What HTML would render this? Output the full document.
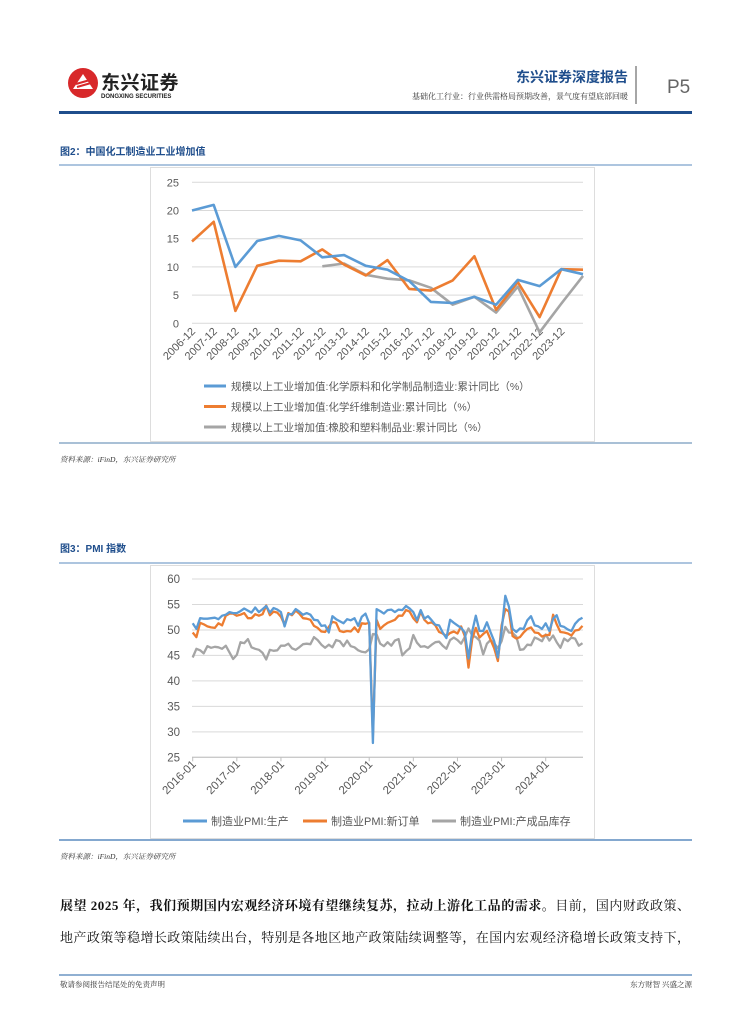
<!DOCTYPE html>
<html><head><meta charset="utf-8">
<style>
body{margin:0;background:#fff;}
svg{display:block;font-family:"Liberation Sans","Noto Sans CJK SC",sans-serif;}
.cn{font-family:"Liberation Sans","Noto Sans CJK SC",sans-serif;}
.sf{font-family:"Liberation Serif","Noto Serif CJK SC",serif;}
</style></head>
<body>
<svg id="page" width="755" height="1024" viewBox="0 0 755 1024">
<g>
  <g>
    <circle cx="83" cy="83" r="15" fill="#d8282a"/>
    <path d="M73,89 L83,74 L93,89 Z" fill="#fff"/>
    <path d="M76,84 L90,80 M77,87 L91,83" stroke="#d8282a" stroke-width="2"/>
    <text x="101" y="89" font-size="19" font-weight="bold" fill="#222" class="cn" letter-spacing="0.5">东兴证券</text>
    <text x="101" y="98" font-size="6" font-weight="bold" fill="#222">DONGXING SECURITIES</text>
  </g>
  <text x="628" y="82" font-size="14" font-weight="bold" fill="#1f4e8c" text-anchor="end" class="cn">东兴证券深度报告</text>
  <text x="628" y="99" font-size="8" fill="#333" text-anchor="end" class="sf">基础化工行业：行业供需格局预期改善，景气度有望底部回暖</text>
  <line x1="636" y1="66" x2="636" y2="104" stroke="#888" stroke-width="1.5"/>
  <text x="667" y="93" font-size="19" fill="#666">P5</text>
  <rect x="59" y="111" width="633" height="3" fill="#1f4e8c"/>
</g>

<text x="60" y="155" font-size="10" font-weight="bold" fill="#1f4e8c" class="cn">图2：中国化工制造业工业增加值</text>
<line x1="59" y1="165" x2="692" y2="165" stroke="#5b8bbf" stroke-width="1"/>
<rect x="150.5" y="167.5" width="444" height="274" fill="#fff" stroke="#ddd"/>
<g id="chart1"></g>
<line x1="59" y1="443" x2="692" y2="443" stroke="#a9c0d6" stroke-width="2"/>
<text x="60" y="462" font-size="7.5" font-style="italic" fill="#333" class="sf">资料来源：iFinD，东兴证券研究所</text>

<text x="60" y="552" font-size="10" font-weight="bold" fill="#1f4e8c" class="cn">图3：PMI 指数</text>
<line x1="59" y1="563" x2="692" y2="563" stroke="#5b8bbf" stroke-width="1"/>
<rect x="150.5" y="565.5" width="444" height="273" fill="#fff" stroke="#ddd"/>
<g id="chart2"></g>
<line x1="59" y1="840" x2="692" y2="840" stroke="#5b8bbf" stroke-width="1.5"/>
<text x="60" y="859" font-size="7.5" font-style="italic" fill="#333" class="sf">资料来源：iFinD，东兴证券研究所</text>

<g>
<text x="60" y="910" font-size="13" fill="#111" class="sf" textLength="630" lengthAdjust="spacing"><tspan font-weight="bold">展望 2025 年，我们预期国内宏观经济环境有望继续复苏，拉动上游化工品的需求。</tspan>目前，国内财政政策、</text>
<text x="60" y="942" font-size="13" fill="#111" class="sf" textLength="630" lengthAdjust="spacing">地产政策等稳增长政策陆续出台，特别是各地区地产政策陆续调整等，在国内宏观经济稳增长政策支持下，</text>
</g>
<line x1="59" y1="975" x2="692" y2="975" stroke="#6b96c4" stroke-width="1.5"/>
<text x="60" y="987" font-size="7.5" fill="#333" class="sf">敬请参阅报告结尾处的免责声明</text>
<text x="692" y="987" font-size="7.5" fill="#333" text-anchor="end" class="sf">东方财智 兴盛之源</text>
</svg>
<script>
const NS="http://www.w3.org/2000/svg";
// ---- Chart 1 data ----
const years1=["2006-12","2007-12","2008-12","2009-12","2010-12","2011-12","2012-12","2013-12","2014-12","2015-12","2016-12","2017-12","2018-12","2019-12","2020-12","2021-12","2022-12","2023-12",""];
const chemRaw=[20,21,10,14.6,15.5,14.7,11.7,12.1,10.2,9.5,7.5,3.8,3.6,4.7,3.3,7.7,6.6,9.6,8.7];
const chemFiber=[14.5,18,2.2,10.2,11.1,11,13.1,10.4,8.5,11.2,6.1,5.8,7.6,11.9,2.4,7.3,1.1,9.6,9.5];
const rubber=[null,null,null,null,null,null,10.1,10.6,8.6,7.9,7.6,6.3,3.3,4.7,1.9,6.5,-1.6,3.5,8.4];
const ticks1=[0,5,10,15,20,25];
const legend1=["规模以上工业增加值:化学原料和化学制品制造业:累计同比（%）","规模以上工业增加值:化学纤维制造业:累计同比（%）","规模以上工业增加值:橡胶和塑料制品业:累计同比（%）"];
// ---- Chart 2 data (2016-01 .. 2024-11) ----
const pmiProd=[51.3,50.2,52.3,52.2,52.2,52.3,52.4,52.1,52.8,53,53.5,53.3,
53.3,53.7,54.2,53.8,53.4,54.4,53.5,54.1,54.7,53.4,54.3,54,
53.5,50.7,53.1,53.1,54.1,53.6,53,53.3,53,52,51.9,50.8,
50.9,49.5,52.7,52.1,51.7,51.3,52.1,51.9,52.3,50.8,52.6,53.2,
51.3,27.8,54.1,53.7,53.2,53.9,54,53.5,54,53.9,54.7,54.2,
53.5,51.9,53.9,52.2,52.7,51.9,51,50.9,49.5,48.4,52,51.4,
50.9,50.4,49.5,44.4,49.7,52.8,49.8,49.8,51.5,49.6,47.8,44.6,
49.8,56.7,54.6,50.2,49.6,50.3,50.2,51.9,52.7,50.9,50.7,50.2,
51.3,49.8,52.2,52.9,50.8,50.6,50.1,49.8,51.2,52,52.4];
const pmiOrders=[49.5,48.6,51.4,51.1,50.7,50.5,50.4,51.3,50.9,52.8,53.2,53.2,
52.8,53,53.3,52.3,52.3,53.1,52.8,53.1,54.8,52.9,53.6,53.4,
52.6,51,53.3,52.9,53.8,53.2,52.3,52.2,52,50.8,50.4,49.7,
49.6,50.6,51.6,51.4,49.8,49.6,49.8,49.7,50.5,49.6,51.3,51.2,
51.4,29.3,52,50.2,50.9,51.4,51.7,52,52.8,52.8,53.9,53.6,
52.3,51.5,53.6,52,51.3,51.5,50.9,49.6,49.3,48.8,49.4,49.7,
49.3,50.7,48.8,42.6,48.2,50.4,48.5,49.2,49.8,48.1,46.4,43.9,
50.9,54.1,53.6,48.8,48.3,48.6,49.5,50.2,50.5,49.5,49.4,48.7,
49,49,53,51.1,49.6,49.5,49.3,48.9,49.9,50,50.8];
const pmiInv=[44.6,46.3,46,45.4,46.8,46.5,46.7,46.6,46.3,46.9,45.6,44.3,
45.1,47.6,47.4,48.2,46.6,46.3,46.1,45.5,44.2,46.1,45.9,46,
46.9,46.9,47.3,46.4,46.1,46.6,47.2,47.3,47.2,48.6,48,47.1,
46.5,47.1,46.6,48,47.8,46.8,47.9,46.8,46.6,46,45.7,45.6,
46.2,49.2,49.1,47.3,46.8,47.6,46.9,47.9,48.2,45,45.8,46.4,
49,47.5,46.7,46.8,46.5,47.1,47.6,47.7,46.9,46.3,48,48.5,
48,47.3,48.6,50.3,48.9,48.6,47.9,45.2,47.3,48,47.4,46.4,
47.8,50.6,49.5,49.4,48.7,46.1,46.2,47.1,47,48.5,48.2,47.8,
49.1,47.9,48.9,47.6,46.5,48.3,47.8,48.5,48.3,46.9,47.4];
const ticks2=[25,30,35,40,45,50,55,60];
const xLabels2=["2016-01","2017-01","2018-01","2019-01","2020-01","2021-01","2022-01","2023-01","2024-01"];
const legend2=["制造业PMI:生产","制造业PMI:新订单","制造业PMI:产成品库存"];
const COLORS=["#5b9bd5","#ed7d31","#a5a5a5"];

function mk(parent,tag,attrs,txt){const e=document.createElementNS(NS,tag);for(const k in attrs)e.setAttribute(k,attrs[k]);if(txt!==undefined)e.textContent=txt;parent.appendChild(e);return e;}
function pathOf(vals,xf,yf){let d="",pen=false;vals.forEach((v,i)=>{if(v===null){pen=false;return;}d+=(pen?"L":"M")+xf(i).toFixed(1)+","+yf(v).toFixed(1);pen=true;});return d;}

// Chart 1
(function(){
const g=document.getElementById('chart1');
const x0=192,x1=583,yTop=182.3,yBot=323.3;
const xf=i=>x0+i*(x1-x0)/(chemRaw.length-1);
const yf=v=>yBot-(v-0)/(25-0)*(yBot-yTop);
ticks1.forEach(t=>{
  const l=mk(g,'line',{x1:192,x2:583,y1:yf(t),y2:yf(t),stroke:'#d9d9d9','stroke-width':1});
  
  
  const tx=mk(g,'text',{x:179,y:yf(t)+4,'font-size':11,fill:'#595959','text-anchor':'end'},String(t));
  
  
});
years1.forEach((lab,i)=>{
  if(!lab)return;
  const tx=mk(g,'text',{x:0,y:0,'font-size':11,fill:'#595959','text-anchor':'end',transform:`translate(${xf(i)+4},${332}) rotate(-45)`},lab);
  
  
});
[chemRaw,chemFiber,rubber].slice().reverse().forEach((s,ri)=>{
  const k=2-ri;
  const p=mk(g,'path',{d:pathOf(s,xf,yf),fill:'none',stroke:COLORS[k],'stroke-width':2.6,'stroke-linejoin':'round'});
  
  
});
legend1.forEach((lab,i)=>{
  const y=386+i*20.5;
  const l=mk(g,'line',{x1:204,x2:226,y1:y,y2:y,stroke:COLORS[i],'stroke-width':3});
  
  
  const t=mk(g,'text',{x:231,y:y+4,'font-size':10.5,fill:'#595959'},lab);
  
  
});
})();

// Chart 2
(function(){
const g=document.getElementById('chart2');
const x0=192.7,step=(545.7-192.7)/96,yTop=579,yBot=757.3;
const xf=i=>x0+i*step;
const yf=v=>yBot-(v-25)/(60-25)*(yBot-yTop);
ticks2.forEach(t=>{
  const l=mk(g,'line',{x1:192,x2:583,y1:yf(t),y2:yf(t),stroke:'#d9d9d9','stroke-width':1});
  
  
  const tx=mk(g,'text',{x:180,y:yf(t)+4,'font-size':11.5,fill:'#595959','text-anchor':'end'},String(t));
  
  
});
const ax=mk(g,'line',{x1:192,x2:583,y1:yBot,y2:yBot,stroke:'#bfbfbf'});


xLabels2.forEach((lab,i)=>{
  const x=xf(i*12);
  mk(g,'line',{x1:x,x2:x,y1:yBot,y2:yBot+4,stroke:'#bfbfbf'});
  const tx=mk(g,'text',{x:0,y:0,'font-size':11.5,fill:'#595959','text-anchor':'end',transform:`translate(${x+4},${765}) rotate(-45)`},lab);
  
  
});
[pmiInv,pmiOrders,pmiProd].forEach((s,ri)=>{
  const k=2-ri;
  const p=mk(g,'path',{d:pathOf(s,xf,yf),fill:'none',stroke:COLORS[k],'stroke-width':2.3,'stroke-linejoin':'round'});
  
  
});
const lx=[183,303,432];
legend2.forEach((lab,i)=>{
  const y=821;
  const l=mk(g,'line',{x1:lx[i],x2:lx[i]+24,y1:y,y2:y,stroke:COLORS[i],'stroke-width':3});
  
  
  const t=mk(g,'text',{x:lx[i]+28,y:y+4,'font-size':11,fill:'#595959'},lab);
  
  
});
})();
</script>
</body></html>
